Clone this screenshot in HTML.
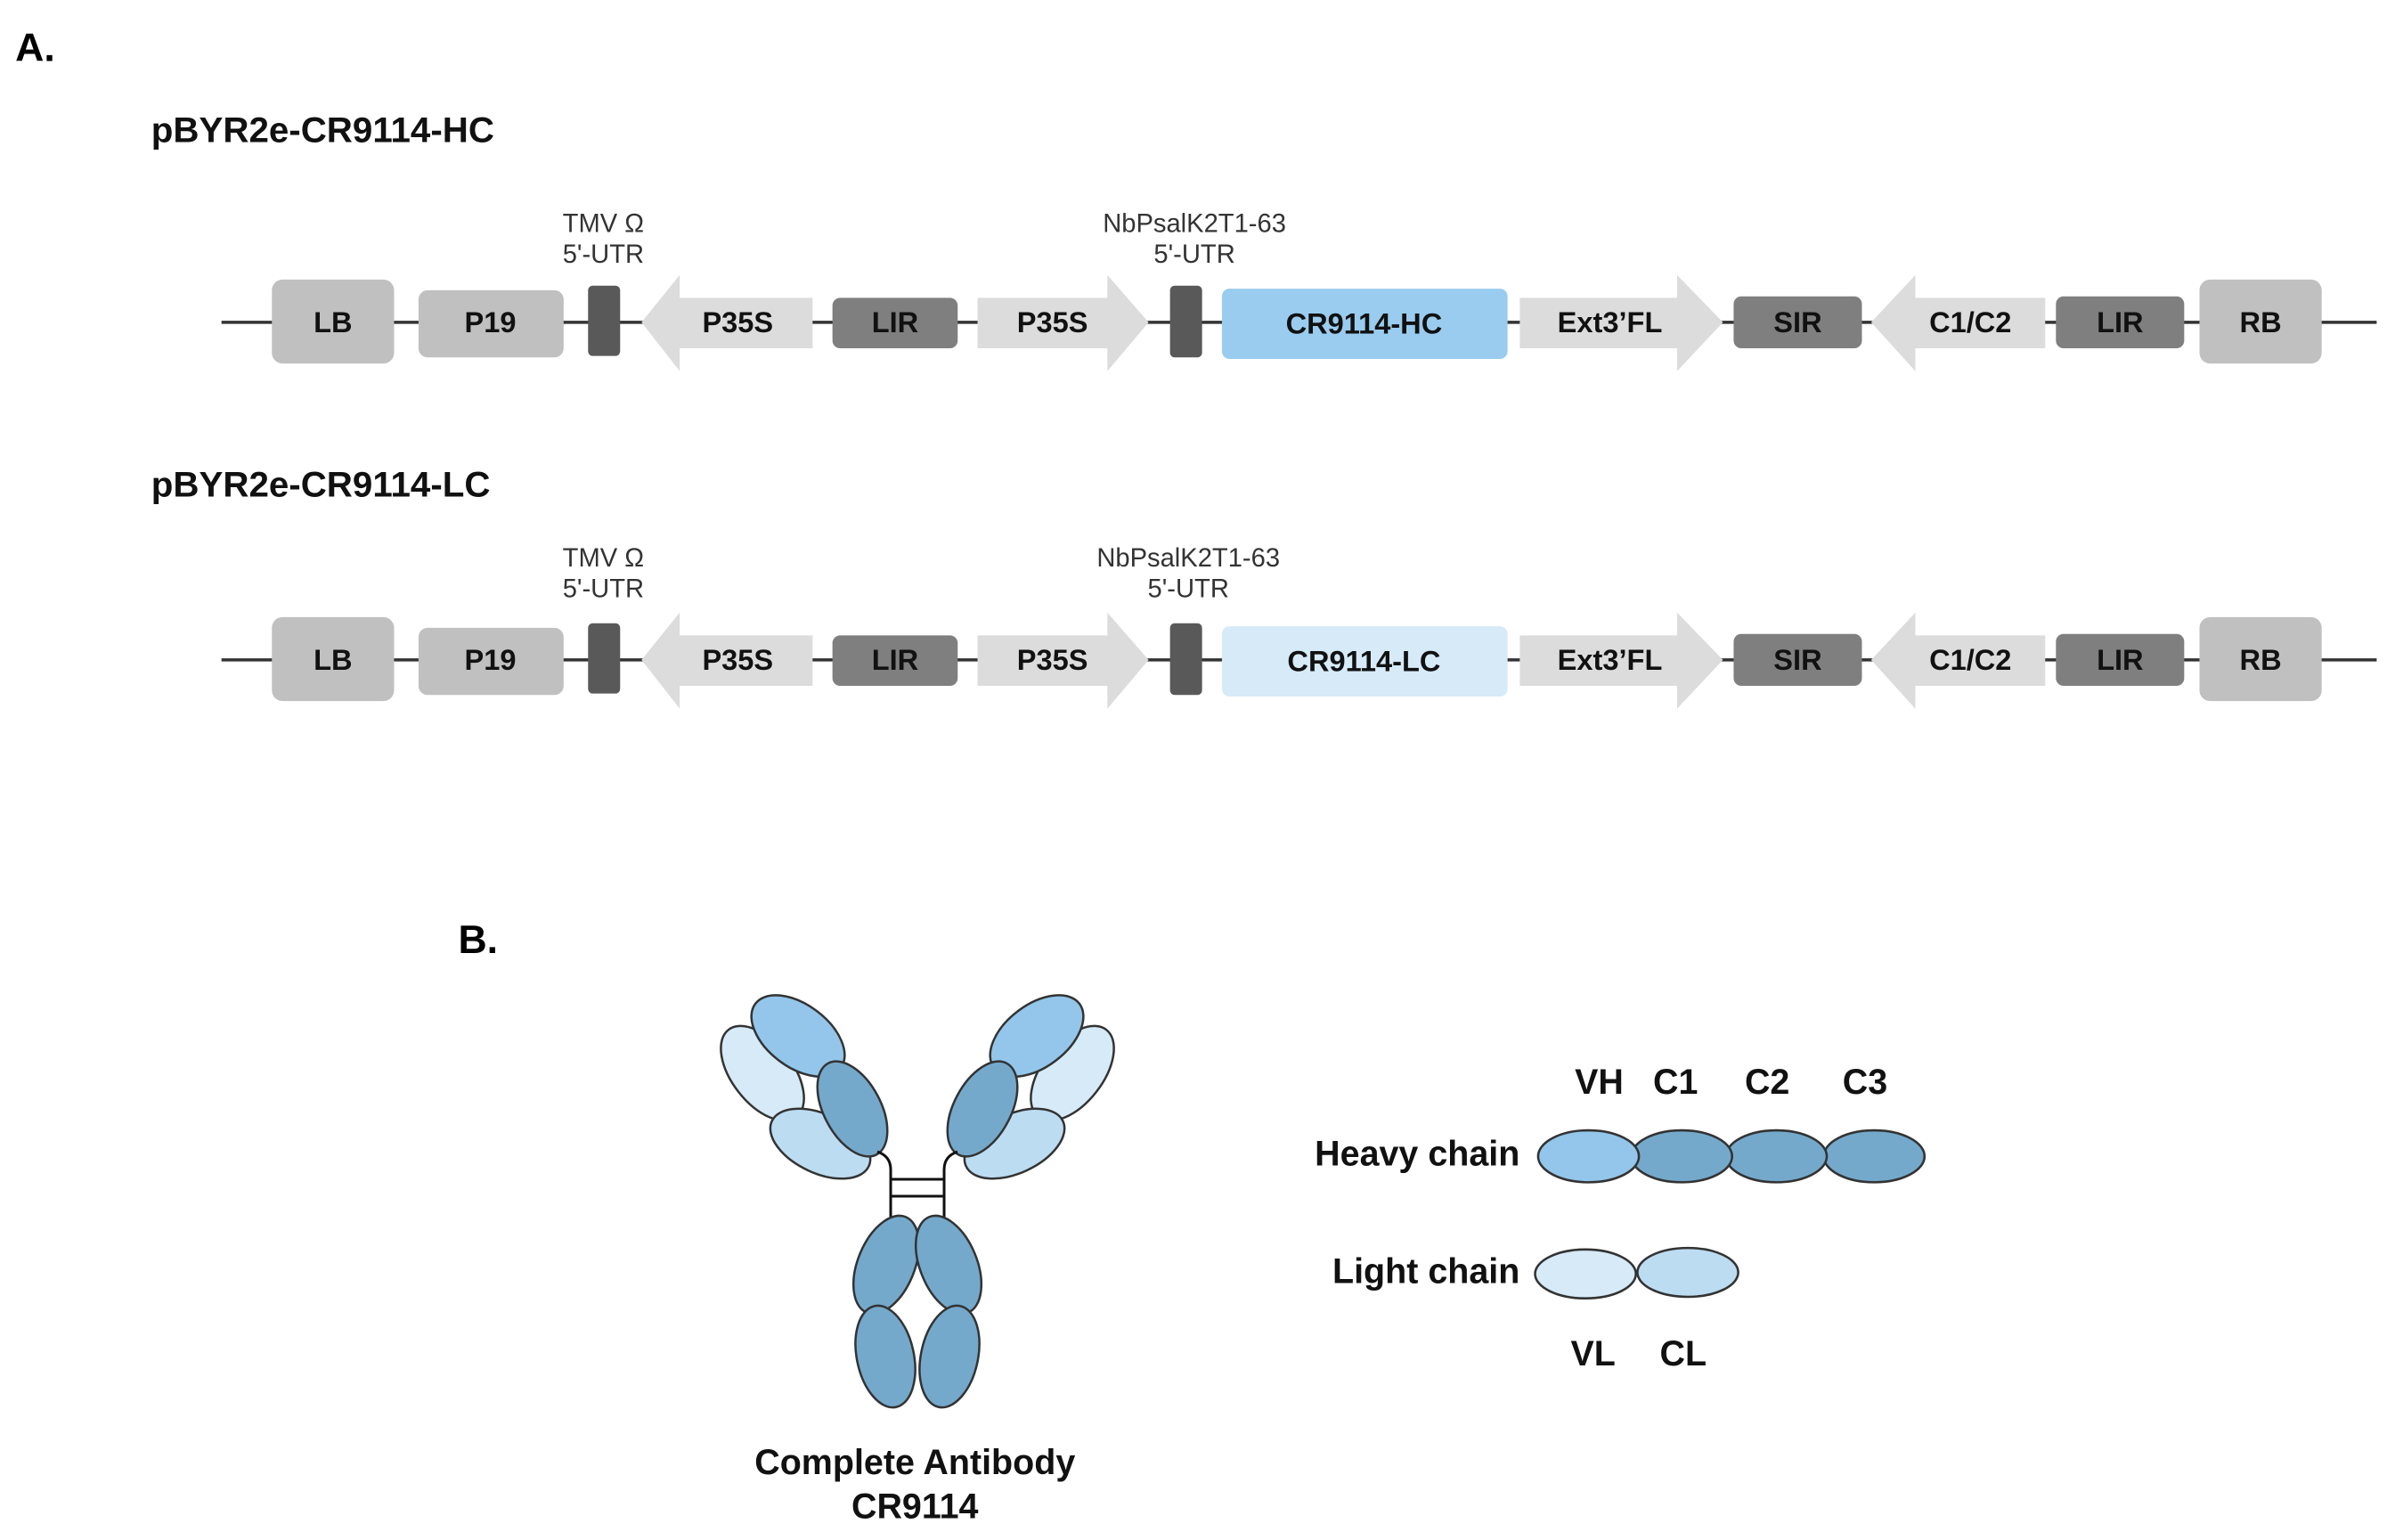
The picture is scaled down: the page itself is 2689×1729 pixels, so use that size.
<!DOCTYPE html>
<html><head><meta charset="utf-8"><style>
html,body{margin:0;padding:0;background:#fff;}
svg{display:block;}
text{font-family:"Liberation Sans",Arial,sans-serif;}
.b{font-weight:bold;font-size:19px;fill:#111;text-anchor:middle;dominant-baseline:central;}
.s{font-size:17px;fill:#333;text-anchor:middle;}
.t{font-weight:bold;font-size:23.5px;fill:#111;}
.l{font-weight:bold;font-size:23px;fill:#111;}
</style></head><body>
<svg width="2689" height="1729" viewBox="0 0 1568 1008.2" preserveAspectRatio="none" xmlns="http://www.w3.org/2000/svg">
<rect width="1568" height="1008.2" fill="#fff"/>
<text x="10" y="40" style="font-weight:bold;font-size:26px">A.</text>
<text x="300" y="624" style="font-weight:bold;font-size:26px">B.</text>
<text class="t" x="99" y="93">pBYR2e-CR9114-HC</text>
<text class="t" x="99" y="325">pBYR2e-CR9114-LC</text>

<defs>
<g id="row">
  <line x1="145" y1="0" x2="1556" y2="0" stroke="#333" stroke-width="2"/>
  <rect x="178" y="-28" width="80" height="55" rx="7" fill="#c0c0c0"/>
  <text class="b" x="218" y="0">LB</text>
  <rect x="274" y="-21" width="95" height="44" rx="6" fill="#c0c0c0"/>
  <text class="b" x="321" y="0">P19</text>
  <rect x="385" y="-24" width="21" height="46" rx="3" fill="#595959"/>
  <polygon points="420,0 445,-31 445,-16 532,-16 532,17 445,17 445,32" fill="#dcdcdc"/>
  <text class="b" x="483" y="0">P35S</text>
  <rect x="545" y="-16" width="82" height="33" rx="5" fill="#7f7f7f"/>
  <text class="b" x="586" y="0">LIR</text>
  <polygon points="640,-16 725,-16 725,-31 752,0 725,32 725,17 640,17" fill="#dcdcdc"/>
  <text class="b" x="689" y="0">P35S</text>
  <rect x="766" y="-24" width="21" height="47" rx="3" fill="#595959"/>
  <polygon points="995,-16 1098,-16 1098,-31 1128,0 1098,32 1098,17 995,17" fill="#dcdcdc"/>
  <text class="b" x="1054" y="0">Ext3’FL</text>
  <rect x="1135" y="-17" width="84" height="34" rx="5" fill="#7f7f7f"/>
  <text class="b" x="1177" y="0">SIR</text>
  <polygon points="1225,0 1254,-31 1254,-16 1339,-16 1339,17 1254,17 1254,32" fill="#dcdcdc"/>
  <text class="b" x="1290" y="0">C1/C2</text>
  <rect x="1346" y="-17" width="84" height="34" rx="5" fill="#7f7f7f"/>
  <text class="b" x="1388" y="0">LIR</text>
  <rect x="1440" y="-28" width="80" height="55" rx="7" fill="#c0c0c0"/>
  <text class="b" x="1480" y="0">RB</text>
</g>
</defs>

<g transform="translate(0,211)">
  <use href="#row"/>
  <rect x="800" y="-22" width="187" height="46" rx="5" fill="#99ccee"/>
  <text class="b" x="893" y="1">CR9114-HC</text>
</g>
<text class="s" x="395" y="152">TMV Ω</text>
<text class="s" x="395" y="172">5'-UTR</text>
<text class="s" x="782" y="152">NbPsalK2T1-63</text>
<text class="s" x="782" y="172">5'-UTR</text>

<g transform="translate(0,432)">
  <use href="#row"/>
  <rect x="800" y="-22" width="187" height="46" rx="5" fill="#d6eaf8"/>
  <text class="b" x="893" y="1">CR9114-LC</text>
</g>
<text class="s" x="395" y="371">TMV Ω</text>
<text class="s" x="395" y="391">5'-UTR</text>
<text class="s" x="778" y="371">NbPsalK2T1-63</text>
<text class="s" x="778" y="391">5'-UTR</text>

<!-- antibody in actual px coords -->
<g transform="scale(0.58313)" stroke="#333" stroke-width="2.5">
  <g id="arm">
    <ellipse cx="856" cy="1205" rx="62" ry="34" transform="rotate(52 856 1205)" fill="#d6eaf8"/>
    <ellipse cx="896" cy="1163" rx="60" ry="35" transform="rotate(37 896 1163)" fill="#93c6ea"/>
    <ellipse cx="921" cy="1284" rx="60" ry="33" transform="rotate(25 921 1284)" fill="#bcdcf2"/>
    <ellipse cx="957" cy="1245" rx="58" ry="32" transform="rotate(62 957 1245)" fill="#74a9cc"/>
  </g>
  <use href="#arm" transform="translate(2060,0) scale(-1,1)"/>
  <g fill="none" stroke="#111" stroke-width="3">
    <path d="M985 1293 Q1000 1298 1000 1313 L1000 1368"/>
    <path d="M1075 1293 Q1060 1298 1060 1313 L1060 1368"/>
    <line x1="1000" y1="1324" x2="1060" y2="1324"/>
    <line x1="1000" y1="1343" x2="1060" y2="1343"/>
  </g>
  <ellipse cx="995" cy="1420" rx="58" ry="32" transform="rotate(112 995 1420)" fill="#74a9cc"/>
  <ellipse cx="994" cy="1523" rx="58" ry="32" transform="rotate(78 994 1523)" fill="#74a9cc"/>
  <ellipse cx="1065" cy="1420" rx="58" ry="32" transform="rotate(68 1065 1420)" fill="#74a9cc"/>
  <ellipse cx="1066" cy="1523" rx="58" ry="32" transform="rotate(102 1066 1523)" fill="#74a9cc"/>
</g>
<text class="l" x="599" y="965" text-anchor="middle">Complete Antibody</text>
<text class="l" x="599" y="994" text-anchor="middle">CR9114</text>

<text class="l" x="1047" y="716" text-anchor="middle">VH</text>
<text class="l" x="1097" y="716" text-anchor="middle">C1</text>
<text class="l" x="1157" y="716" text-anchor="middle">C2</text>
<text class="l" x="1221" y="716" text-anchor="middle">C3</text>
<text class="l" x="995" y="763" text-anchor="end">Heavy chain</text>
<g stroke="#333" stroke-width="1.5">
  <ellipse cx="1227" cy="757" rx="33" ry="17" fill="#74a9cc"/>
  <ellipse cx="1163" cy="757" rx="33" ry="17" fill="#74a9cc"/>
  <ellipse cx="1101" cy="757" rx="33" ry="17" fill="#74a9cc"/>
  <ellipse cx="1040" cy="757" rx="33" ry="17" fill="#93c6ea"/>
  <ellipse cx="1105" cy="833" rx="33" ry="16" fill="#bcdcf2"/>
  <ellipse cx="1038" cy="834" rx="33" ry="16" fill="#d6eaf8"/>
</g>
<text class="l" x="995" y="840" text-anchor="end">Light chain</text>
<text class="l" x="1043" y="894" text-anchor="middle">VL</text>
<text class="l" x="1102" y="894" text-anchor="middle">CL</text>
</svg>
</body></html>
